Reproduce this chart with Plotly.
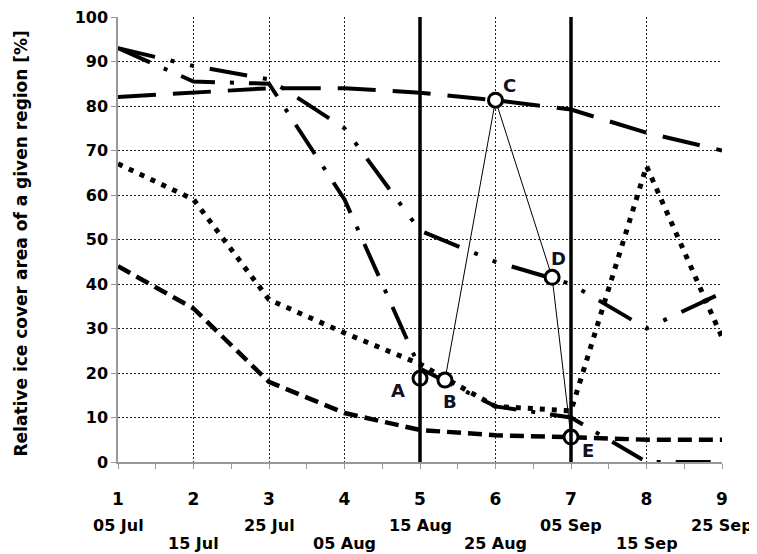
import plotly.graph_objects as go

# ---- data ----
x_vals = [1, 2, 3, 4, 5, 6, 7, 8, 9]
date_labels = ['05 Jul', '15 Jul', '25 Jul', '05 Aug', '15 Aug',
               '25 Aug', '05 Sep', '15 Sep', '25 Sep']
long_dash_series = [82, 83, 84, 84, 83, 81.3, 79.2, 74, 70]
dash_dot_series = [93, 85.5, 85, 59, 21, 12.5, 10, 0, 0]
dash_dot_dot_series = [93, 89, 86, 75, 52, 45, 40, 30, 38]
dotted_series = [67, 59, 36.5, 29, 22, 12.5, 11.5, 66.5, 28]
dashed_series = [44, 34.5, 18, 11, 7.2, 6, 5.6, 5, 5]

point_labels = ['A', 'B', 'C', 'D', 'E']
point_x = [5, 5.33, 6, 6.75, 7]
point_y = [18.8, 18.4, 81.3, 41.5, 5.6]
event_x = [5, 7]

y_title = 'Relative ice cover area of a given region [%]'

FONT = 'DejaVu Sans'

fig = go.Figure()

def add_line(y, dash, width=4):
    fig.add_trace(go.Scatter(x=x_vals, y=y, mode='lines',
                             line=dict(color='black', width=width, dash=dash),
                             hoverinfo='skip', showlegend=False, cliponaxis=False))

add_line(dashed_series, '14px,7px', 4.5)
add_line(dotted_series, '5px,7px', 5)
add_line(dash_dot_dot_series, '38px,16px,4px,16px,4px,16px', 4)
add_line(dash_dot_series, '35px,15px,4px,15px', 4)
add_line(long_dash_series, '38px,17px', 4)

# thin connecting line through the marked points
fig.add_trace(go.Scatter(x=point_x[1:], y=point_y[1:], mode='lines',
                         line=dict(color='black', width=1),
                         hoverinfo='skip', showlegend=False))
fig.add_trace(go.Scatter(x=point_x, y=point_y, mode='markers',
                         marker=dict(symbol='circle', size=14, color='white',
                                     line=dict(color='black', width=3)),
                         hoverinfo='skip', showlegend=False, cliponaxis=False))

# vertical event lines
for ex in event_x:
    fig.add_shape(type='line', xref='x', yref='y', x0=ex, x1=ex, y0=0, y1=100,
                  line=dict(color='black', width=3.5), layer='above')

# point labels
label_shift = {'A': (-22, -12), 'B': (5, -21), 'C': (14, 15), 'D': (6, 19), 'E': (17, -13)}
for lab, px, py in zip(point_labels, point_x, point_y):
    dx, dy = label_shift[lab]
    fig.add_annotation(x=px, y=py, text=lab, showarrow=False, xshift=dx, yshift=dy,
                       font=dict(family=FONT, size=18, color='#111122', weight='bold'))

# date labels under the x tick numbers
for i, (xv, d) in enumerate(zip(x_vals, date_labels)):
    fig.add_annotation(x=xv, y=0, xref='x', yref='paper', text=d, showarrow=False,
                       yanchor='middle', yshift=-63 if i % 2 == 0 else -81,
                       font=dict(family=FONT, size=16, color='black', weight='bold'))

# y-axis title (rotated annotation)
fig.add_annotation(x=0, y=0.5, xref='paper', yref='paper', text=y_title, showarrow=False,
                   textangle=-90, xanchor='center', yanchor='middle', xshift=-98, yshift=-4,
                   font=dict(family=FONT, size=17, color='black', weight='bold'))

fig.update_layout(
    width=749, height=546,
    margin=dict(l=110, r=35, t=9, b=92, autoexpand=False),
    paper_bgcolor='white', plot_bgcolor='white',
    font=dict(family=FONT, size=16, color='black', weight='bold'),
    showlegend=False,
)
fig.update_xaxes(range=[1, 9], tickvals=x_vals, ticks='outside', ticklen=5, tickcolor='#999999',
                 showline=True, linecolor='#999999', linewidth=1.5,
                 showgrid=True, gridcolor='#222222', gridwidth=1, griddash='2px,2px',
                 zeroline=False, ticklabelstandoff=16, automargin=False,
                 ticklabeloverflow='allow',
                 tickfont=dict(family=FONT, size=17, color='black', weight='bold'),
                 minor=dict(dtick=0.5, ticks='outside', ticklen=5, tickcolor='#999999', showgrid=False))
fig.update_yaxes(range=[0, 100], tickvals=[0, 10, 20, 30, 40, 50, 60, 70, 80, 90, 100],
                 ticks='outside', ticklen=5, tickcolor='#999999',
                 showline=True, linecolor='#999999', linewidth=1.5,
                 showgrid=True, gridcolor='#222222', gridwidth=1, griddash='2px,2px',
                 zeroline=False, automargin=False, ticklabeloverflow='allow',
                 tickfont=dict(family=FONT, size=16, color='black', weight='bold'))

fig.write_html('out.html')
